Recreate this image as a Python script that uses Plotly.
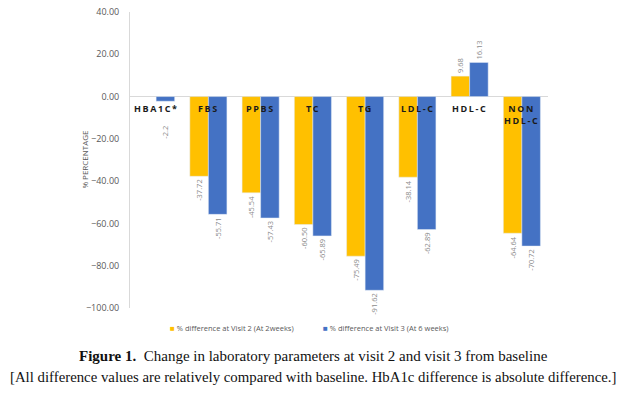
import plotly.graph_objects as go

categories = ["HBA1C*", "FBS", "PPBS", "TC", "TG", "LDL-C", "HDL-C", "NON<br>HDL-C"]
visit2 = [None, -37.72, -45.54, -60.50, -75.49, -38.14, 9.68, -64.64]
visit2_text = ["", "-37.72", "-45.54", "-60.50", "-75.49", "-38.14", "9.68", "-64.64"]
visit3 = [-2.2, -55.71, -57.43, -65.89, -91.62, -62.89, 16.13, -70.72]
visit3_text = ["-2.2", "-55.71", "-57.43", "-65.89", "-91.62", "-62.89", "16.13", "-70.72"]
series_names = ["% difference at Visit 2 (At 2weeks)", "% difference at Visit 3 (At 6 weeks)"]
y_ticks = [-100, -80, -60, -40, -20, 0, 20, 40]
colors = ["#FFC000", "#4472C4"]

label_font = dict(family="Open Sans, Arial, sans-serif", size=7.5, color="#8c8c8c")

# the HBA1C label sits below the category name, pad it away from the bar end
visit3_display = [t + ("&nbsp;" * 11 if i == 0 else "") for i, t in enumerate(visit3_text)]

fig = go.Figure()
fig.add_trace(go.Bar(
    x=categories, y=visit2, name=series_names[0], marker_color=colors[0],
    text=visit2_text, textposition="outside", textangle=-90, textfont=label_font,
    constraintext="none", cliponaxis=False, showlegend=False,
))
fig.add_trace(go.Bar(
    x=categories, y=visit3, name=series_names[1], marker_color=colors[1],
    text=visit3_display, textposition="outside", textangle=-90, textfont=label_font,
    constraintext="none", cliponaxis=False, showlegend=False,
))

for c in categories:
    fig.add_annotation(
        x=c, y=0, xref="x", yref="y",
        text="<br>".join(f'<span style="letter-spacing:1.6px">{p}</span>' for p in c.split("<br>")),
        showarrow=False, yanchor="top", yshift=-3,
        font=dict(family="Open Sans, Arial, sans-serif", size=9, color="#1a1a1a", weight="bold"),
    )

# y-axis title
fig.add_annotation(
    x=-0.111, y=0.5, xref="paper", yref="paper", showarrow=False, textangle=-90,
    xanchor="center", yanchor="middle",
    text="% PERCENTAGE",
    font=dict(family="Open Sans, Arial, sans-serif", size=8, color="#595959"),
)

# legend
for name, col, lx in zip(series_names, colors, [0.092, 0.457]):
    fig.add_annotation(
        x=lx, y=-0.065, xref="paper", yref="paper", showarrow=False,
        xanchor="left", yanchor="middle",
        text=f'<span style="color:{col};font-size:8px">■</span> {name}',
        font=dict(family="Open Sans, Arial, sans-serif", size=7.5, color="#595959"),
    )

fig.add_annotation(
    x=0.438, y=-0.197, xref="paper", yref="paper", showarrow=False,
    text="<b>Figure 1.</b>  Change in laboratory parameters at visit 2 and visit 3 from baseline",
    font=dict(family="Liberation Serif, Times New Roman, serif", size=15, color="#111111"),
)
fig.add_annotation(
    x=0.438, y=-0.268, xref="paper", yref="paper", showarrow=False,
    text="[All difference values are relatively compared with baseline. HbA1c difference is absolute difference.]",
    font=dict(family="Liberation Serif, Times New Roman, serif", size=14.8, color="#111111"),
)

fig.update_layout(
    width=631, height=397,
    margin=dict(l=130, r=83, t=12, b=89, autoexpand=False),
    paper_bgcolor="white", plot_bgcolor="white",
    barmode="group", bargap=0.29, bargroupgap=0,
    showlegend=False,
    xaxis=dict(showticklabels=False, showline=False, showgrid=False, zeroline=False,
               ticks="", automargin=False),
    yaxis=dict(
        range=[-100, 40], tickvals=y_ticks, tickformat=".2f", automargin=False,
        ticklabeloverflow="allow",
        showgrid=False, zeroline=True, zerolinecolor="#d9d9d9", zerolinewidth=1,
        showline=True, linecolor="#d9d9d9", linewidth=1,
        ticks="", ticklabelstandoff=8,
        tickfont=dict(family="Open Sans, Arial, sans-serif", size=9, color="#595959"),
    ),
)

fig.write_html("out.html", config={"displayModeBar": False},
               post_script="document.body.style.margin='0';")
